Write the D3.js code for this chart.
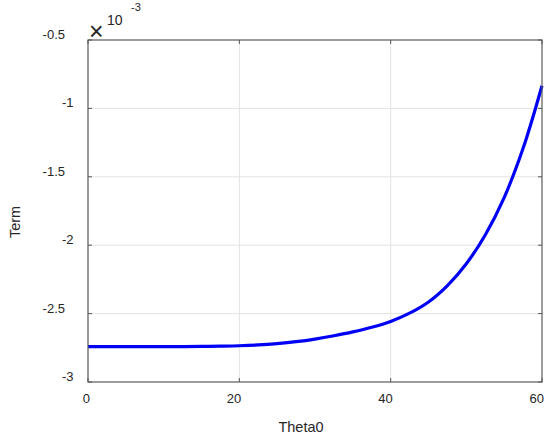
<!DOCTYPE html>
<html>
<head>
<meta charset="utf-8">
<script src="https://cdn.jsdelivr.net/npm/d3@7"></script>
<style>
html,body{margin:0;padding:0;background:#fff;}
svg{display:block;font-family:"Liberation Sans",Arial,sans-serif;}
</style>
</head>
<body>
<svg id="chart" width="550" height="439"></svg>
<script>
// Data (values in units of 1e-3)
const theta = [0, 2.5, 5, 7.5, 10, 12.5, 15, 17.5, 20, 22.5, 25, 27.5, 30, 32.5, 35, 37.5, 40, 42.5, 45, 47.5, 50, 52.5, 55, 57.5, 60];
const term = [-2.741, -2.741, -2.741, -2.741, -2.741, -2.741, -2.740, -2.738, -2.735, -2.729, -2.719, -2.705, -2.686, -2.662, -2.634, -2.600, -2.557, -2.497, -2.415, -2.295, -2.135, -1.925, -1.652, -1.292, -0.834];
const xTicks = [0, 20, 40, 60];
const yTicks = [-3, -2.5, -2, -1.5, -1, -0.5];
const yTickLabels = ["-3", "-2.5", "-2", "-1.5", "-1", "-0.5"];

const svg = d3.select("#chart");
const L = 88, R = 542, T = 40, B = 382;
const x = d3.scaleLinear().domain([0, 60]).range([L, R]);
const y = d3.scaleLinear().domain([-3, -0.5]).range([B, T]);

const grid = svg.append("g");
grid.selectAll("line.vx").data(xTicks.slice(1, -1)).enter().append("line")
  .attr("x1", d => x(d)).attr("x2", d => x(d)).attr("y1", T).attr("y2", B)
  .attr("stroke", "#e3e3e3").attr("stroke-width", 1);
grid.selectAll("line.hy").data(yTicks.slice(1, -1)).enter().append("line")
  .attr("x1", L).attr("x2", R).attr("y1", d => y(d)).attr("y2", d => y(d))
  .attr("stroke", "#e3e3e3").attr("stroke-width", 1);

// inward ticks
const tk = svg.append("g").attr("stroke", "#555").attr("stroke-width", 1);
xTicks.forEach(d => {
  tk.append("line").attr("x1", x(d)).attr("x2", x(d)).attr("y1", B).attr("y2", B - 4);
  tk.append("line").attr("x1", x(d)).attr("x2", x(d)).attr("y1", T).attr("y2", T + 4);
});
yTicks.forEach(d => {
  tk.append("line").attr("x1", L).attr("x2", L + 4).attr("y1", y(d)).attr("y2", y(d));
  tk.append("line").attr("x1", R).attr("x2", R - 4).attr("y1", y(d)).attr("y2", y(d));
});

// line
const data = theta.map((t, i) => [t, term[i]]);
svg.append("path").datum(data)
  .attr("fill", "none").attr("stroke", "#0000f5").attr("stroke-width", 3.2)
  .attr("stroke-linejoin", "round")
  .attr("d", d3.line().x(d => x(d[0])).y(d => y(d[1])).curve(d3.curveCatmullRom.alpha(0.5)));

// box
svg.append("rect").attr("x", L).attr("y", T).attr("width", R - L).attr("height", B - T)
  .attr("fill", "none").attr("stroke", "#5a5a5a").attr("stroke-width", 1.2);

// x tick labels
svg.append("g").selectAll("text").data(xTicks).enter().append("text")
  .attr("x", d => x(d) + 2).attr("y", 403)
  .attr("text-anchor", "end").attr("font-size", 13).attr("fill", "#262626")
  .text(d => d);

// y tick labels
svg.append("g").selectAll("text").data(yTicks).enter().append("text")
  .attr("x", (d, i) => yTickLabels[i].includes(".") ? 65 : 73.5)
  .attr("y", d => y(d) - 1)
  .attr("text-anchor", "end").attr("font-size", 13).attr("fill", "#262626")
  .text((d, i) => yTickLabels[i]);

// axis labels
svg.append("text").attr("x", 301).attr("y", 432).attr("text-anchor", "middle")
  .attr("font-size", 14.5).attr("fill", "#262626").text("Theta0");
svg.append("text").attr("transform", "translate(20,222) rotate(-90)")
  .attr("text-anchor", "middle").attr("font-size", 14.5).attr("fill", "#262626").text("Term");

// exponent
svg.append("text").attr("x", 89).attr("y", 40).attr("font-size", 25).attr("font-weight", 300).attr("fill", "#262626").text("\u00d7");
svg.append("text").attr("x", 107).attr("y", 25).attr("font-size", 14).attr("fill", "#262626").text("10");
svg.append("text").attr("x", 131).attr("y", 11).attr("font-size", 11).attr("fill", "#262626").text("-3");
</script>
</body>
</html>
